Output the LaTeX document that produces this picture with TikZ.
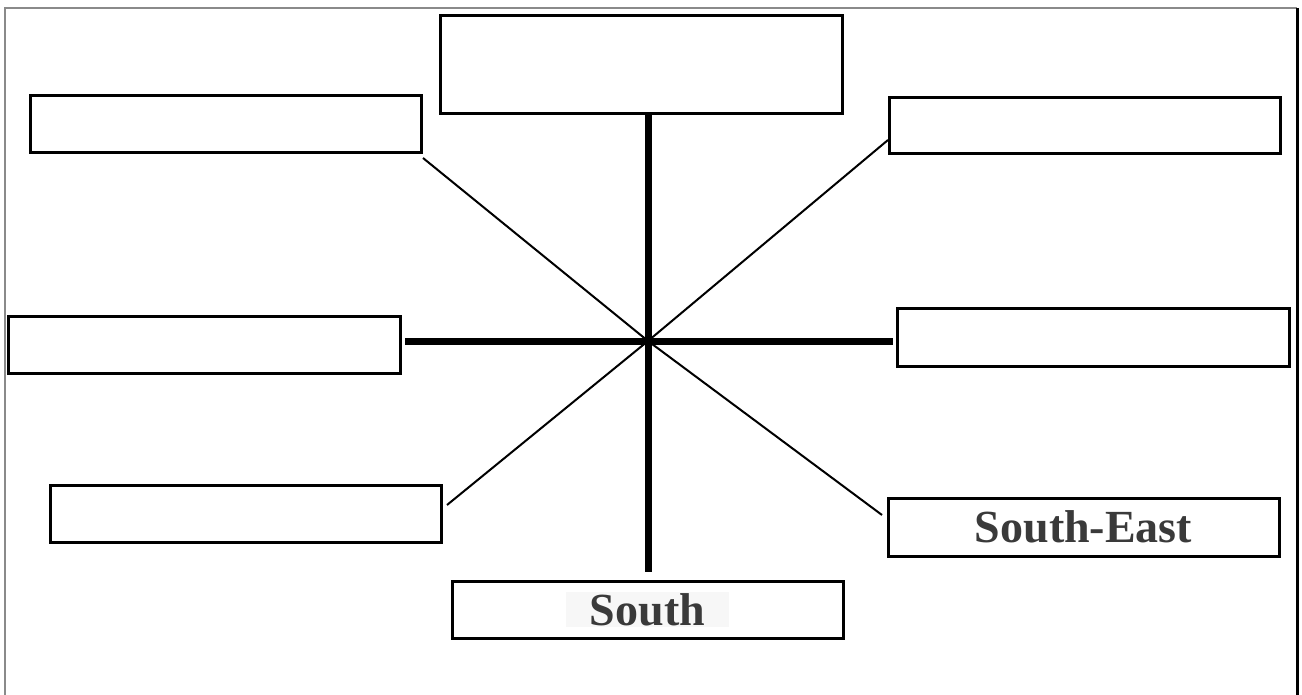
\documentclass[tikz,border=0pt]{standalone}
\usepackage{fontspec}
\setmainfont{Liberation Serif}
\definecolor{txt}{HTML}{3A3A3A}
\definecolor{framegray}{HTML}{8A8A8A}
\begin{document}
\begin{tikzpicture}[x=1pt,y=-1pt,
  box/.style={draw=black,line width=3pt,fill=white,inner sep=0pt,minimum width=391pt,minimum height=57pt},
  lbl/.style={font=\fontsize{46}{46}\selectfont\bfseries,text=txt},
  thick axis/.style={line width=7pt},
  thin ray/.style={line width=2pt}]
\useasboundingbox (0,0) rectangle (1302,695);
\fill[white] (0,0) rectangle (1302,695);
% frame
\draw[framegray,line width=1.5pt] (5,695) -- (5,8) -- (1297,8);
\draw[black,line width=3pt] (1297,8) -- (1297,695);
% coordinates
\coordinate (c) at (648,341);
\coordinate (vend) at (648,572);
\coordinate (hl) at (405,341);
\coordinate (hr) at (893,341);
\coordinate (nwend) at (423,158);
\coordinate (neend) at (888,140);
\coordinate (swend) at (447,505);
\coordinate (seend) at (882,515);
% boxes
\node[box,minimum width=402pt,minimum height=98pt] (top) at (641,65) {};
\node[box] (nw) at (225.5,124.5) {};
\node[box,minimum height=56pt] (ne) at (1084.5,126) {};
\node[box,minimum width=392pt] (w) at (204,344.5) {};
\node[box,minimum width=392pt] (e) at (1093,337.5) {};
\node[box] (sw) at (245.5,513.5) {};
\node[box] (s) at (647.5,609.5) {};
\node[box,minimum height=58pt] (se) at (1083.5,527) {};
% labels
\node[lbl,fill=black!3,inner xsep=24pt,inner ysep=1pt] (slbl) at (s.center) {South};
\node[lbl] (selbl) at (se.center) {South-East};
% connectors
\draw[thick axis] (top.south -| c) -- (vend);
\draw[thick axis] (hl) -- (hr);
\draw[thin ray] (nwend) -- (c);
\draw[thin ray] (neend) -- (c);
\draw[thin ray] (swend) -- (c);
\draw[thin ray] (seend) -- (c);
\end{tikzpicture}
\end{document}
